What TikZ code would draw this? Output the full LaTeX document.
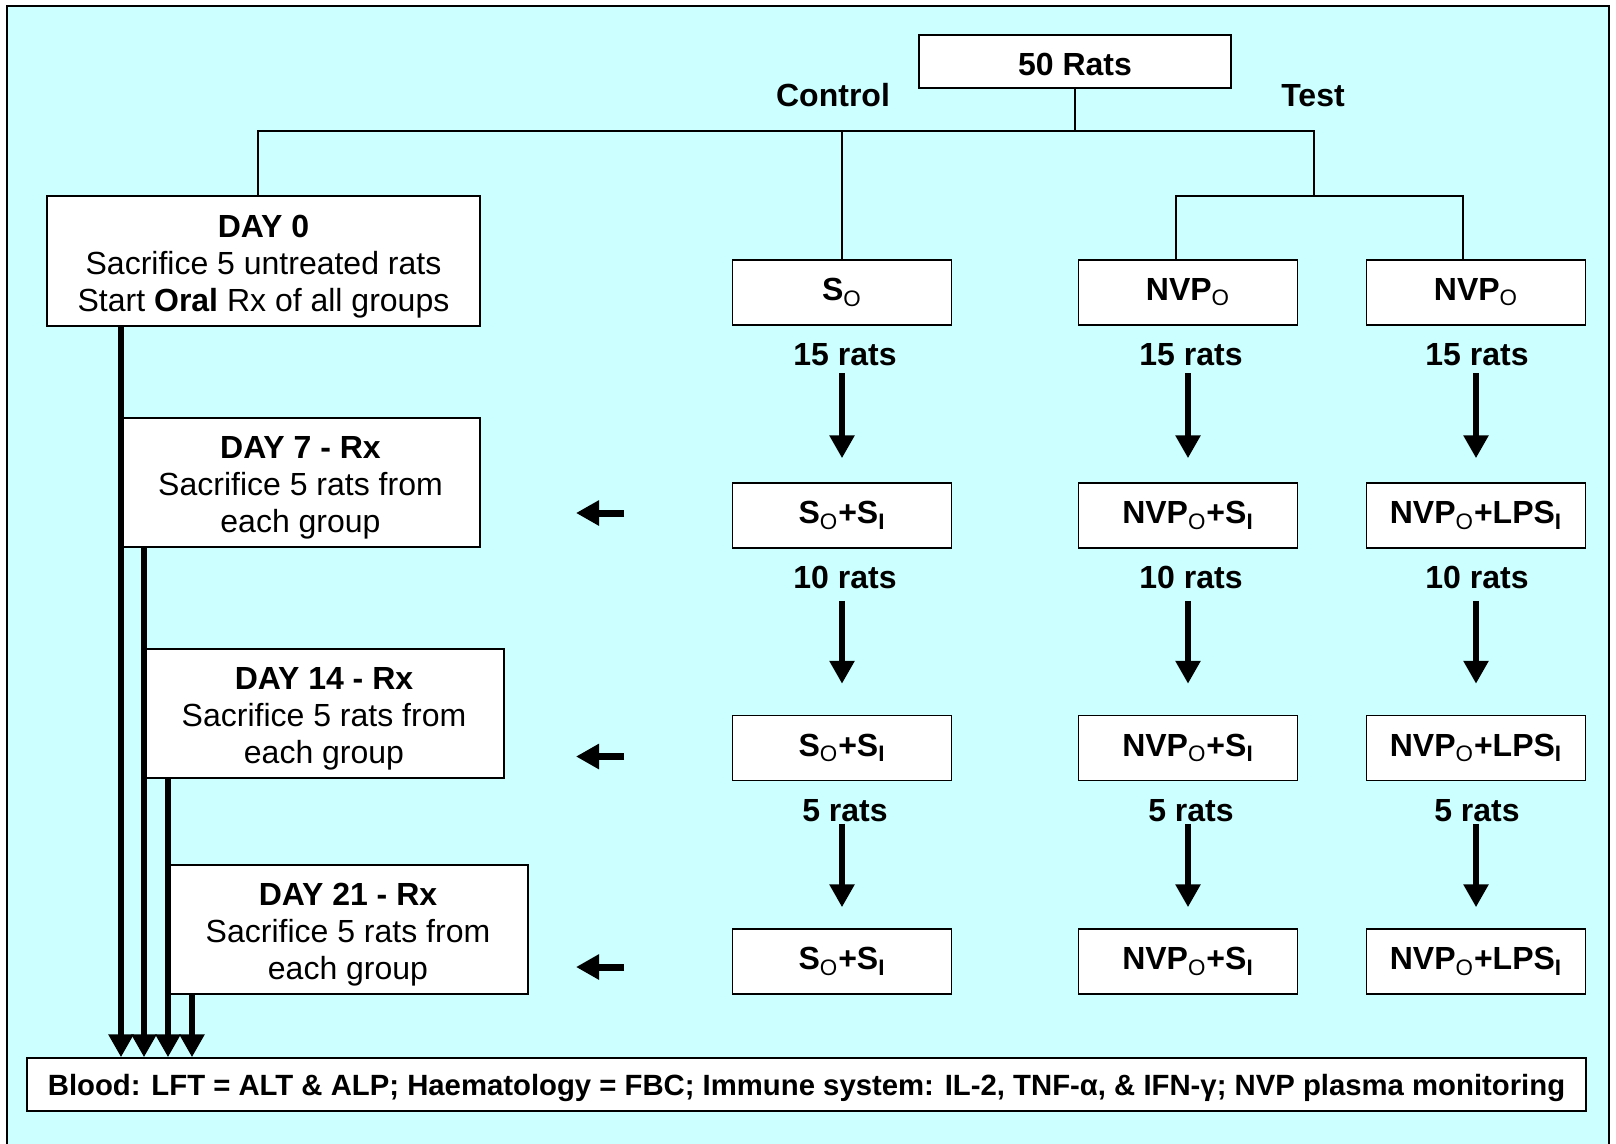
\documentclass[tikz,border=0pt]{standalone}
\usepackage{fontspec}
\setmainfont{Liberation Sans}
\usepackage{xcolor}
\usetikzlibrary{arrows.meta}

\definecolor{paleCyan}{RGB}{204,255,255}
\newcommand{\oral}{\textsubscript{\mdseries O}}
\newcommand{\inj}{\textsubscript{I}}
\newcommand{\daytitle}[1]{\rule{0pt}{16.5pt}\textbf{#1}}

\begin{document}
\begin{tikzpicture}[x=0.5pt, y=-0.5pt,
  font=\fontsize{16}{18.5}\selectfont,
  box/.style={draw, fill=white, line width=0.75pt, inner sep=0pt},
  grp/.style={box, minimum width=109.5pt, minimum height=32.5pt, font=\fontsize{16}{18.5}\selectfont\bfseries},
  day/.style={box, minimum width=180pt, minimum height=64.5pt, align=center},
  count/.style={inner sep=0pt, text height=11.5pt, text depth=0pt, font=\fontsize{16}{18.5}\selectfont\bfseries},
  link/.style={line width=0.75pt},
  fat/.style={line width=3.2pt, -{Triangle[length=11.5pt, width=12pt]}}]

\useasboundingbox (0,0) rectangle (1616,1144);
\fill[white] (0,0) rectangle (1616,1144);
\filldraw[fill=paleCyan, line width=1pt] (7,6) rectangle (1609,1160);

\node[box, minimum width=156pt, minimum height=26.5pt, text height=14.5pt, text depth=0pt, font=\fontsize{16}{18.5}\selectfont\bfseries] (rats) at (1075,61.5) {50 Rats};
\node[count] (ctrl) at (833,95) {Control};
\node[count] (test) at (1313,95) {Test};

\node[day, minimum width=216.5pt, minimum height=65pt] (day0) at (263.5,261) {\daytitle{DAY 0}\\Sacrifice 5 untreated rats\\Start \textbf{Oral} Rx of all groups};
\node[day, minimum width=179.5pt] (day7) at (300.5,482.5) {\daytitle{DAY 7 - Rx}\\Sacrifice 5 rats from\\each group};
\node[day] (day14) at (324,713.5) {\daytitle{DAY 14 - Rx}\\Sacrifice 5 rats from\\each group};
\node[day] (day21) at (348,929.5) {\daytitle{DAY 21 - Rx}\\Sacrifice 5 rats from\\each group};

\foreach \c/\x/\first/\txt in {ctl/842/S\oral/S\oral+S\inj, nvs/1188/NVP\oral/NVP\oral+S\inj, nvl/1476/NVP\oral/NVP\oral+LPS\inj} {
  \node[grp] (\c1) at (\x,292.5) {\first};
  \foreach \r/\y in {2/515.5, 3/748, 4/961.5}
    \node[grp] (\c\r) at (\x,\y) {\txt};
}

\node[box, minimum width=779.5pt, minimum height=26.5pt, text height=11pt, text depth=0pt, font=\fontsize{14.65}{17}\selectfont\bfseries] (blood) at (806.5,1084.5) {Blood: LFT = ALT \& ALP; Haematology = FBC; Immune system: IL-2, TNF-α, \& IFN-γ; NVP plasma monitoring};

\coordinate (hL) at (258,131);
\coordinate (hR) at (1314,131);
\coordinate (tbar) at (1314,196);
\draw[link] (rats.south) -- (rats.south |- hL);
\draw[link] (hL |- day0.north) -- (hL) -- (hR) -- (tbar);
\draw[link] (ctl1.north |- hL) -- (ctl1.north);
\draw[link] ([xshift=-6pt]nvs1.north) |- (tbar) -| ([xshift=-6.5pt]nvl1.north);

\foreach \r/\y/\n/\st/\en in {1/354.5/15/3.5/12, 2/577/10/6/15.5, 3/810/5/1/10.5} {
  \pgfmathtruncatemacro{\nxt}{\r+1}
  \foreach \c/\x in {ctl/845, nvs/1191, nvl/1477} {
    \node[count] (n\c\r) at (\x,\y) {\n\ rats};
    \draw[fat, shorten <=\st pt, shorten >=\en pt] (\c\nxt.north |- n\c\r.south) -- (\c\nxt.north);
  }
}

\foreach \r/\y in {2/513, 3/756.5, 4/967} {
  \coordinate (back\r) at (624,\y);
  \draw[fat, line width=3.5pt] (back\r) -- ++(-48,0);
}

\foreach \d/\x in {day0/121, day7/144, day14/168, day21/192} {
  \coordinate (v\d) at (\x,0);
  \draw[fat] (\d.south -| v\d) -- (blood.north -| v\d);
}

\end{tikzpicture}
\end{document}
